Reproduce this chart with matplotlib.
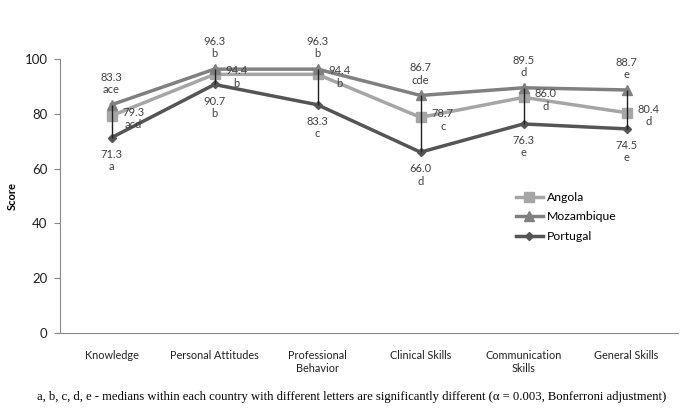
import numpy as np
import matplotlib
matplotlib.use('Agg')
import matplotlib.pyplot as plt

plt.rcParams['font.family'] = ['Lato', 'DejaVu Sans']

categories = ['Knowledge', 'Personal Attitudes', 'Professional\nBehavior',
              'Clinical Skills', 'Communication\nSkills', 'General Skills']
angola = [79.3, 94.4, 94.4, 78.7, 86.0, 80.4]
mozambique = [83.3, 96.3, 96.3, 86.7, 89.5, 88.7]
portugal = [71.3, 90.7, 83.3, 66.0, 76.3, 74.5]
angola_letters = ['acd', 'b', 'b', 'c', 'd', 'd']
mozambique_letters = ['ace', 'b', 'b', 'cde', 'd', 'e']
portugal_letters = ['a', 'b', 'c', 'd', 'e', 'e']

x = np.arange(len(categories))

fig = plt.figure(figsize=(6.85, 4.17), dpi=100)
ax = fig.add_axes([60/685, 1 - 333/417, 618/685, 274/417])

# high-low lines
lows = np.minimum.reduce([angola, mozambique, portugal])
highs = np.maximum.reduce([angola, mozambique, portugal])
ax.vlines(x, lows, highs, color='#202020', linewidth=1, zorder=4)

ax.plot(x, angola, color='#a6a6a6', linewidth=2.5, marker='s', markersize=7,
        label='Angola', zorder=2)
ax.plot(x, mozambique, color='#808080', linewidth=2.5, marker='^', markersize=7,
        label='Mozambique', zorder=3)
ax.plot(x, portugal, color='#555555', linewidth=2.5, marker='D', markersize=4.5,
        label='Portugal', zorder=3)

lab = dict(fontsize=8, color='#404040', ha='center', linespacing=1.15)
for i in range(len(categories)):
    ax.annotate(f'{mozambique[i]:.1f}\n{mozambique_letters[i]}', (x[i], mozambique[i]),
                xytext=(0, 7), textcoords='offset points', va='bottom', **lab)
    ax.annotate(f'{angola[i]:.1f}\n{angola_letters[i]}', (x[i], angola[i]),
                xytext=(16, -2), textcoords='offset points', va='center', **lab)
    ax.annotate(f'{portugal[i]:.1f}\n{portugal_letters[i]}', (x[i], portugal[i]),
                xytext=(0, -8), textcoords='offset points', va='top', **lab)

ax.set_xlim(-0.5, len(categories) - 0.5)
ax.set_ylim(0, 100)
ax.set_yticks([0, 20, 40, 60, 80, 100])
ax.set_xticks(x)
ax.set_xticklabels(categories, fontsize=7.8, color='#202020', va='top', linespacing=1.3)
ax.tick_params(axis='x', length=0, pad=12)
ax.tick_params(axis='y', length=4, color='#888888', labelsize=9.5, labelcolor='#202020', pad=5)
for s in ['top', 'right']:
    ax.spines[s].set_visible(False)
for s in ['left', 'bottom']:
    ax.spines[s].set_color('#888888')
    ax.spines[s].set_linewidth(0.8)

ax.set_ylabel('Score', fontsize=8, fontweight='bold')
ax.yaxis.set_label_coords(-0.068, 0.5)

ax.legend(loc='upper left', bbox_to_anchor=(0.72, 0.555), frameon=False,
          fontsize=8.8, handlelength=2.2, labelspacing=0.7, handletextpad=0.3)

fig.text(0.514, 0.048, 'a, b, c, d, e - medians within each country with different letters are '
         'significantly different (\u03b1 = 0.003, Bonferroni adjustment)',
         ha='center', va='center', fontsize=9.1, family=['Liberation Serif'])

fig.savefig('out.png', dpi=100)
